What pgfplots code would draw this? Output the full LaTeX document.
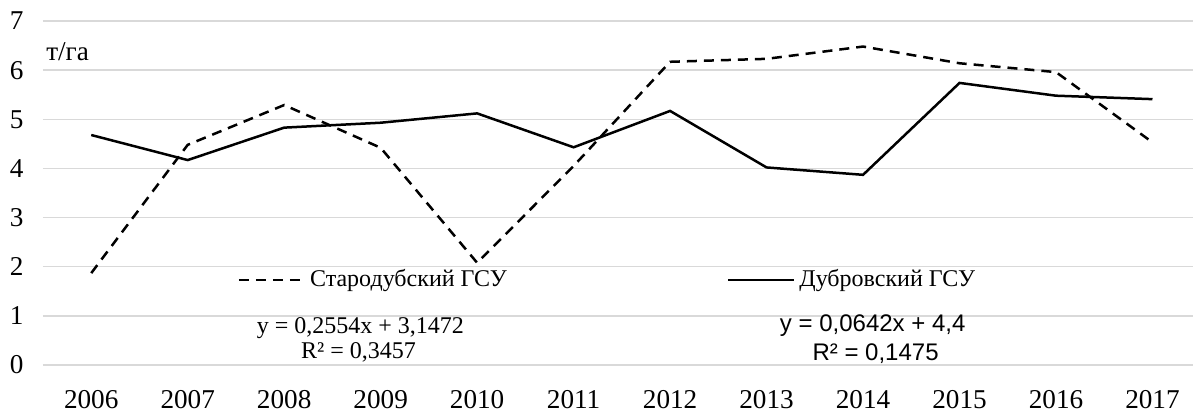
\documentclass[border=0pt]{standalone}
\usepackage{fontspec}
\setmainfont{Liberation Serif}
\newfontfamily\arialf{Liberation Sans}
\usepackage{pgfplots}
\pgfplotsset{compat=1.18}
\definecolor{gridc}{HTML}{D9D9D9}
\begin{document}
\fontsize{12}{14}\selectfont
\begin{tikzpicture}
\begin{axis}[name=ax, scale only axis, width=575pt, height=172pt,
  xmin=-0.5, xmax=11.42, ymin=0, ymax=7,
  xtick={0,1,2,3,4,5,6,7,8,9,10,11},
  xticklabels={2006,2007,2008,2009,2010,2011,2012,2013,2014,2015,2016,2017},
  ytick={0,1,2,3,4,5,6,7},
  axis line style={draw=none},
  ymajorgrids, grid style={gridc, line width=0.75pt},
  major tick length=0pt, tick style={draw=none},
  /pgf/number format/assume math mode=true,
  ticklabel style={font=\fontsize{13.6}{15}\selectfont},
  yticklabel style={inner sep=0pt, xshift=-9.5pt},
  xticklabel style={inner sep=0pt, yshift=-12.5pt},
  clip=false,
  legend columns=2,
  legend style={at={(axis cs:1.513,1.73)}, anchor=west, draw=none, fill=none,
    inner sep=0pt, font=\fontsize{12}{14}\selectfont,
    /tikz/every even column/.append style={column sep=108pt}},
  legend image code/.code={\draw[#1] (0pt,0pt) -- (33pt,0pt);},
]
\addplot[black, line width=1.25pt, dash pattern=on 5pt off 3.5pt] coordinates {
(0,1.87) (1,4.48) (2,5.29) (3,4.42) (4,2.08) (5,4.05) (6,6.17) (7,6.23) (8,6.48) (9,6.14) (10,5.96) (11,4.53)};
\addlegendentry{Стародубский ГСУ}
\addplot[black, line width=1.25pt] coordinates {
(0,4.68) (1,4.17) (2,4.83) (3,4.93) (4,5.12) (5,4.43) (6,5.17) (7,4.02) (8,3.87) (9,5.74) (10,5.48) (11,5.41)};
\addlegendentry{Дубровский ГСУ}
\node[anchor=west, inner sep=0pt, font=\fontsize{13.6}{15}\selectfont] at (axis cs:-0.47,6.37) {т/га};
\node[inner sep=0pt] at (axis cs:2.79,0.75) {y = 0,2554x + 3,1472};
\node[inner sep=0pt] at (axis cs:2.77,0.26) {R² = 0,3457};
\node[inner sep=0pt, font=\arialf\fontsize{12}{14}\selectfont] at (axis cs:8.10,0.81) {y = 0,0642x + 4,4};
\node[inner sep=0pt, font=\arialf\fontsize{12}{14}\selectfont] at (axis cs:8.13,0.24) {R² = 0,1475};
\end{axis}
\pgfresetboundingbox
\path[use as bounding box] ([shift={(-21.5pt,-23.5pt)}]ax.south west) rectangle ([shift={(0pt,10.5pt)}]ax.north east);
\end{tikzpicture}
\end{document}
